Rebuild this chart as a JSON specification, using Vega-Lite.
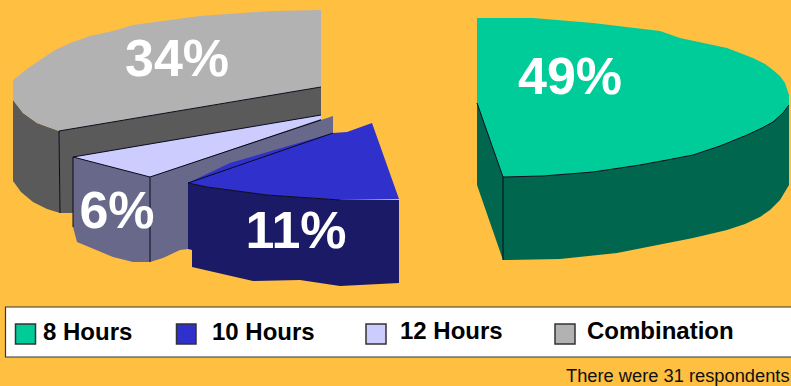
{
  "$schema": "https://vega.github.io/schema/vega-lite/v6.json",
  "width": 791,
  "height": 386,
  "padding": 0,
  "autosize": {"type": "none"},
  "background": "#FFBF40",
  "config": {"view": {"stroke": null}},
  "resolve": {"scale": {"fill": "independent"}},
  "datasets": {
    "faces": [
      {"part":"combinationOuter","i":0,"x":13,"y":100},{"part":"combinationOuter","i":1,"x":23,"y":113},{"part":"combinationOuter","i":2,"x":37,"y":123},{"part":"combinationOuter","i":3,"x":59,"y":131},{"part":"combinationOuter","i":4,"x":60,"y":213},{"part":"combinationOuter","i":5,"x":47,"y":209},{"part":"combinationOuter","i":6,"x":33,"y":202},{"part":"combinationOuter","i":7,"x":21,"y":192},{"part":"combinationOuter","i":8,"x":13,"y":181},
      {"part":"combinationInner","i":0,"x":59,"y":131},{"part":"combinationInner","i":1,"x":321,"y":87},{"part":"combinationInner","i":2,"x":321,"y":125},{"part":"combinationInner","i":3,"x":72,"y":213},{"part":"combinationInner","i":4,"x":60,"y":213},
      {"part":"combinationTop","i":0,"x":321,"y":10},{"part":"combinationTop","i":1,"x":272,"y":11},{"part":"combinationTop","i":2,"x":200,"y":16},{"part":"combinationTop","i":3,"x":133,"y":25},{"part":"combinationTop","i":4,"x":113,"y":31},{"part":"combinationTop","i":5,"x":90,"y":36},{"part":"combinationTop","i":6,"x":73,"y":42},{"part":"combinationTop","i":7,"x":57,"y":49},{"part":"combinationTop","i":8,"x":43,"y":58},{"part":"combinationTop","i":9,"x":27,"y":69},{"part":"combinationTop","i":10,"x":13,"y":80},{"part":"combinationTop","i":11,"x":13,"y":100},{"part":"combinationTop","i":12,"x":23,"y":113},{"part":"combinationTop","i":13,"x":37,"y":123},{"part":"combinationTop","i":14,"x":59,"y":131},{"part":"combinationTop","i":15,"x":321,"y":87},
      {"part":"twelveLeft","i":0,"x":73,"y":157},{"part":"twelveLeft","i":1,"x":150,"y":177},{"part":"twelveLeft","i":2,"x":150,"y":262},{"part":"twelveLeft","i":3,"x":133,"y":262},{"part":"twelveLeft","i":4,"x":113,"y":257},{"part":"twelveLeft","i":5,"x":77,"y":242},{"part":"twelveLeft","i":6,"x":73,"y":227},
      {"part":"twelveRight","i":0,"x":150,"y":177},{"part":"twelveRight","i":1,"x":333,"y":116},{"part":"twelveRight","i":2,"x":333,"y":133},{"part":"twelveRight","i":3,"x":188,"y":183},{"part":"twelveRight","i":4,"x":188,"y":249},{"part":"twelveRight","i":5,"x":180,"y":250},{"part":"twelveRight","i":6,"x":163,"y":258},{"part":"twelveRight","i":7,"x":150,"y":262},
      {"part":"twelveTop","i":0,"x":73,"y":157},{"part":"twelveTop","i":1,"x":321,"y":115},{"part":"twelveTop","i":2,"x":321,"y":119},{"part":"twelveTop","i":3,"x":150,"y":177},
      {"part":"tenFront","i":0,"x":188,"y":183},{"part":"tenFront","i":1,"x":207,"y":187},{"part":"tenFront","i":2,"x":267,"y":195},{"part":"tenFront","i":3,"x":340,"y":200},{"part":"tenFront","i":4,"x":399,"y":200},{"part":"tenFront","i":5,"x":399,"y":283},{"part":"tenFront","i":6,"x":340,"y":286},{"part":"tenFront","i":7,"x":300,"y":280},{"part":"tenFront","i":8,"x":253,"y":281},{"part":"tenFront","i":9,"x":192,"y":267},{"part":"tenFront","i":10,"x":192,"y":250},{"part":"tenFront","i":11,"x":188,"y":249},
      {"part":"tenTop","i":0,"x":372,"y":123},{"part":"tenTop","i":1,"x":399,"y":199},{"part":"tenTop","i":2,"x":340,"y":200},{"part":"tenTop","i":3,"x":267,"y":195},{"part":"tenTop","i":4,"x":207,"y":187},{"part":"tenTop","i":5,"x":188,"y":183},{"part":"tenTop","i":6,"x":230,"y":163},{"part":"tenTop","i":7,"x":333,"y":133},{"part":"tenTop","i":8,"x":347,"y":132},
      {"part":"eightLeft","i":0,"x":477,"y":103},{"part":"eightLeft","i":1,"x":503,"y":177},{"part":"eightLeft","i":2,"x":503,"y":260},{"part":"eightLeft","i":3,"x":477,"y":185},
      {"part":"eightFront","i":0,"x":503,"y":177},{"part":"eightFront","i":1,"x":543,"y":176},{"part":"eightFront","i":2,"x":593,"y":172},{"part":"eightFront","i":3,"x":640,"y":165},{"part":"eightFront","i":4,"x":667,"y":160},{"part":"eightFront","i":5,"x":693,"y":155},{"part":"eightFront","i":6,"x":720,"y":146},{"part":"eightFront","i":7,"x":747,"y":135},{"part":"eightFront","i":8,"x":762,"y":128},{"part":"eightFront","i":9,"x":773,"y":122},{"part":"eightFront","i":10,"x":783,"y":113},{"part":"eightFront","i":11,"x":789,"y":105},{"part":"eightFront","i":12,"x":789,"y":185},{"part":"eightFront","i":13,"x":780,"y":200},{"part":"eightFront","i":14,"x":770,"y":210},{"part":"eightFront","i":15,"x":760,"y":217},{"part":"eightFront","i":16,"x":745,"y":224},{"part":"eightFront","i":17,"x":727,"y":230},{"part":"eightFront","i":18,"x":693,"y":238},{"part":"eightFront","i":19,"x":617,"y":253},{"part":"eightFront","i":20,"x":560,"y":259},{"part":"eightFront","i":21,"x":503,"y":260},
      {"part":"eightTop","i":0,"x":477,"y":18},{"part":"eightTop","i":1,"x":533,"y":18},{"part":"eightTop","i":2,"x":593,"y":23},{"part":"eightTop","i":3,"x":660,"y":31},{"part":"eightTop","i":4,"x":680,"y":38},{"part":"eightTop","i":5,"x":727,"y":48},{"part":"eightTop","i":6,"x":753,"y":58},{"part":"eightTop","i":7,"x":765,"y":64},{"part":"eightTop","i":8,"x":773,"y":70},{"part":"eightTop","i":9,"x":780,"y":76},{"part":"eightTop","i":10,"x":785,"y":83},{"part":"eightTop","i":11,"x":789,"y":95},{"part":"eightTop","i":12,"x":789,"y":105},{"part":"eightTop","i":13,"x":783,"y":113},{"part":"eightTop","i":14,"x":773,"y":122},{"part":"eightTop","i":15,"x":762,"y":128},{"part":"eightTop","i":16,"x":747,"y":135},{"part":"eightTop","i":17,"x":720,"y":146},{"part":"eightTop","i":18,"x":693,"y":155},{"part":"eightTop","i":19,"x":667,"y":160},{"part":"eightTop","i":20,"x":640,"y":165},{"part":"eightTop","i":21,"x":593,"y":172},{"part":"eightTop","i":22,"x":543,"y":176},{"part":"eightTop","i":23,"x":503,"y":177},{"part":"eightTop","i":24,"x":477,"y":103}
    ],
    "edges": [
      {"edge":"a","i":0,"x":59,"y":131},{"edge":"a","i":1,"x":321,"y":87},
      {"edge":"b","i":0,"x":59,"y":131},{"edge":"b","i":1,"x":60,"y":213},
      {"edge":"c","i":0,"x":73,"y":157},{"edge":"c","i":1,"x":321,"y":115},
      {"edge":"d","i":0,"x":73,"y":157},{"edge":"d","i":1,"x":150,"y":177},{"edge":"d","i":2,"x":321,"y":120},
      {"edge":"e","i":0,"x":150,"y":177},{"edge":"e","i":1,"x":150,"y":262},
      {"edge":"f","i":0,"x":73,"y":157},{"edge":"f","i":1,"x":73,"y":227},
      {"edge":"g","i":0,"x":188,"y":183},{"edge":"g","i":1,"x":333,"y":133},
      {"edge":"h","i":0,"x":188,"y":183},{"edge":"h","i":1,"x":207,"y":187},{"edge":"h","i":2,"x":267,"y":195},{"edge":"h","i":3,"x":340,"y":200},
      {"edge":"j","i":0,"x":503,"y":177},{"edge":"j","i":1,"x":503,"y":260},
      {"edge":"k","i":0,"x":477,"y":103},{"edge":"k","i":1,"x":503,"y":177},{"edge":"k","i":2,"x":543,"y":176},{"edge":"k","i":3,"x":593,"y":172},{"edge":"k","i":4,"x":640,"y":165},{"edge":"k","i":5,"x":667,"y":160},{"edge":"k","i":6,"x":693,"y":155},{"edge":"k","i":7,"x":720,"y":146},{"edge":"k","i":8,"x":747,"y":135},{"edge":"k","i":9,"x":762,"y":128},{"edge":"k","i":10,"x":773,"y":122},{"edge":"k","i":11,"x":783,"y":113},{"edge":"k","i":12,"x":789,"y":105}
    ]
  },
  "encoding": {
    "x": {"field": "x", "type": "quantitative", "axis": null, "scale": {"domain": [0, 791], "nice": false, "zero": false}},
    "y": {"field": "y", "type": "quantitative", "axis": null, "scale": {"domain": [386, 0], "nice": false, "zero": false}}
  },
  "layer": [
    {
      "data": {"name": "faces"},
      "mark": {"type": "line", "filled": true, "interpolate": "linear", "strokeWidth": 0},
      "encoding": {
        "detail": {"field": "part"},
        "order": {"field": "i", "type": "quantitative"},
        "fill": {
          "field": "part",
          "type": "nominal",
          "legend": null,
          "scale": {
            "domain": ["combinationOuter","combinationInner","combinationTop","twelveLeft","twelveRight","twelveTop","tenFront","tenTop","eightLeft","eightFront","eightTop"],
            "range": ["#5A5A5A","#5A5A5A","#B2B2B2","#68688A","#68688A","#CCCCFF","#1A1A66","#3030CC","#00664D","#00664D","#00CC99"]
          }
        }
      }
    },
    {
      "data": {"name": "edges"},
      "mark": {"type": "line", "interpolate": "linear", "color": "#0A0A1E", "strokeWidth": 1},
      "encoding": {
        "detail": {"field": "edge"},
        "order": {"field": "i", "type": "quantitative"}
      }
    },
    {
      "data": {"values": [
        {"label": "34%", "value": 34, "x": 177, "y": 76},
        {"label": "49%", "value": 49, "x": 570, "y": 94},
        {"label": "6%", "value": 6, "x": 117, "y": 228},
        {"label": "11%", "value": 11, "x": 296, "y": 248}
      ]},
      "mark": {"type": "text", "font": "Liberation Sans", "fontWeight": "bold", "fontSize": 52, "color": "#FFFFFF", "align": "center", "baseline": "alphabetic"},
      "encoding": {"text": {"field": "label"}}
    },
    {
      "data": {"values": [{"x": 5.5, "x2": 800, "y": 307, "y2": 357}]},
      "mark": {"type": "rect", "fill": "#FFFFFF", "stroke": "#33363D", "strokeWidth": 1.2},
      "encoding": {"x2": {"field": "x2"}, "y2": {"field": "y2"}}
    },
    {
      "data": {"values": [
        {"hours": "8 Hours", "x": 15.5, "x2": 35.5, "y": 324, "y2": 344},
        {"hours": "10 Hours", "x": 176.5, "x2": 196, "y": 324, "y2": 344},
        {"hours": "12 Hours", "x": 366, "x2": 386, "y": 324, "y2": 344},
        {"hours": "Combination", "x": 555, "x2": 575, "y": 324, "y2": 344}
      ]},
      "mark": {"type": "rect", "stroke": "#333333", "strokeWidth": 1.5},
      "encoding": {
        "x2": {"field": "x2"},
        "y2": {"field": "y2"},
        "fill": {
          "field": "hours",
          "type": "nominal",
          "legend": null,
          "scale": {"domain": ["8 Hours","10 Hours","12 Hours","Combination"], "range": ["#00CC99","#3030CC","#CCCCFF","#B2B2B2"]}
        }
      }
    },
    {
      "data": {"values": [
        {"label": "8 Hours", "x": 43, "y": 340},
        {"label": "10 Hours", "x": 212, "y": 340},
        {"label": "12 Hours", "x": 400, "y": 339},
        {"label": "Combination", "x": 587, "y": 339}
      ]},
      "mark": {"type": "text", "font": "Liberation Sans", "fontWeight": "bold", "fontSize": 24, "color": "#000000", "align": "left", "baseline": "alphabetic"},
      "encoding": {"text": {"field": "label"}}
    },
    {
      "data": {"values": [{"label": "There were 31 respondents", "x": 566, "y": 382}]},
      "mark": {"type": "text", "font": "Liberation Sans", "fontSize": 18.3, "color": "#111111", "align": "left", "baseline": "alphabetic"},
      "encoding": {"text": {"field": "label"}}
    }
  ]
}
